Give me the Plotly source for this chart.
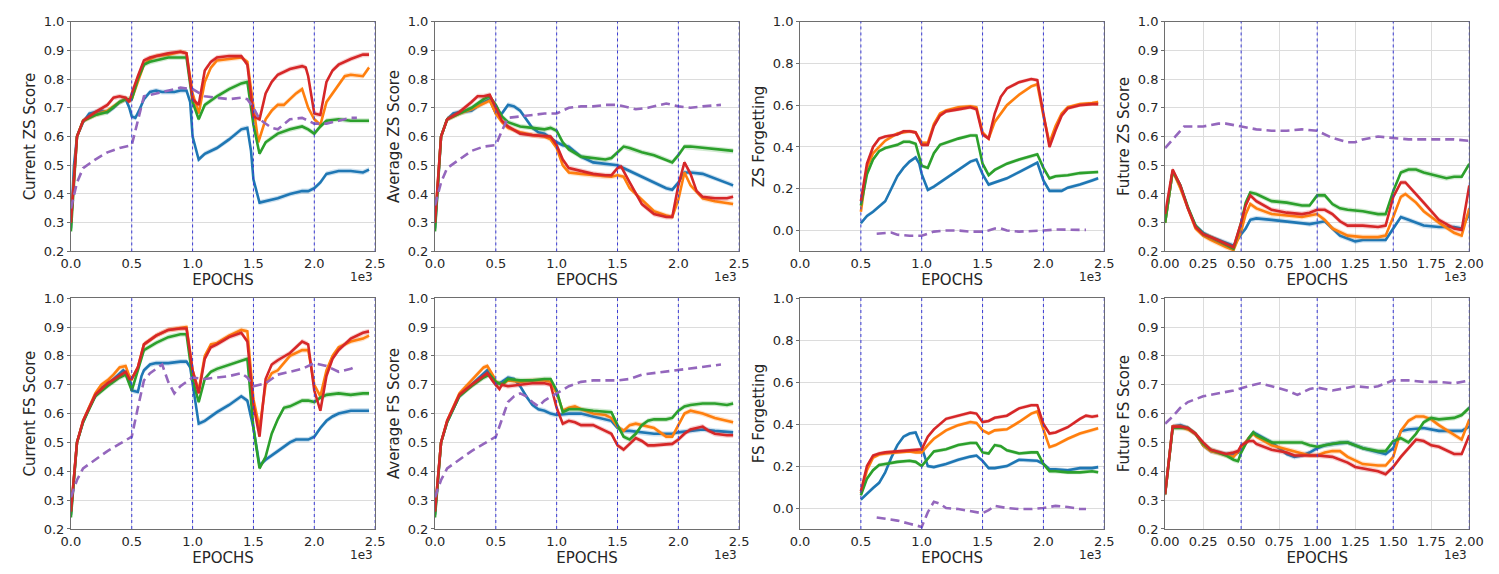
import plotly.graph_objects as go

# ---------------- data (epochs, scores) ----------------
# Panel 1: Current ZS Score
czs_blue_x = [0,25,50,100,150,200,250,300,350,400,450,480,500,530,560,600,650,700,750,800,850,900,950,980,1000,1050,1100,1200,1300,1400,1450,1480,1500,1550,1600,1700,1800,1900,1950,2000,2050,2100,2150,2200,2300,2400,2450]
czs_blue_y = [0.28,0.50,0.60,0.65,0.68,0.685,0.69,0.685,0.70,0.72,0.73,0.70,0.67,0.665,0.69,0.73,0.755,0.76,0.755,0.755,0.755,0.76,0.76,0.72,0.60,0.52,0.54,0.56,0.59,0.625,0.63,0.55,0.45,0.37,0.375,0.385,0.40,0.41,0.41,0.42,0.44,0.47,0.475,0.48,0.48,0.475,0.485]
czs_orange_x = [0,50,100,200,300,400,450,500,550,600,650,700,800,900,950,1000,1050,1100,1150,1200,1300,1400,1450,1500,1540,1600,1650,1700,1750,1800,1850,1900,1950,2000,2050,2100,2150,2200,2250,2300,2400,2450]
czs_orange_y = [0.30,0.60,0.655,0.675,0.69,0.72,0.73,0.73,0.79,0.85,0.87,0.88,0.885,0.895,0.89,0.75,0.68,0.79,0.84,0.865,0.87,0.875,0.86,0.70,0.58,0.66,0.69,0.71,0.71,0.73,0.75,0.765,0.70,0.66,0.64,0.72,0.75,0.78,0.81,0.815,0.81,0.84]
czs_green_x = [0,50,100,200,300,400,450,500,550,600,650,700,800,900,950,1000,1050,1100,1200,1300,1400,1450,1500,1550,1600,1700,1800,1900,1950,2000,2050,2100,2200,2300,2400,2450]
czs_green_y = [0.27,0.60,0.655,0.675,0.685,0.72,0.73,0.73,0.80,0.85,0.86,0.865,0.875,0.875,0.875,0.72,0.66,0.71,0.74,0.765,0.785,0.79,0.64,0.54,0.58,0.61,0.625,0.635,0.625,0.61,0.635,0.655,0.66,0.655,0.655,0.655]
czs_red_x = [0,50,100,200,300,350,400,450,480,500,550,600,650,700,800,900,950,1000,1050,1100,1150,1200,1300,1400,1450,1500,1550,1600,1650,1700,1800,1900,1930,1950,2000,2050,2100,2150,2200,2300,2400,2450]
czs_red_y = [0.30,0.60,0.655,0.685,0.71,0.735,0.74,0.735,0.72,0.75,0.81,0.865,0.875,0.88,0.89,0.895,0.89,0.73,0.71,0.83,0.86,0.875,0.88,0.88,0.85,0.67,0.66,0.75,0.79,0.815,0.835,0.845,0.84,0.81,0.68,0.675,0.79,0.83,0.85,0.87,0.885,0.885]
czs_purple_x = [0,50,100,200,300,400,500,550,600,700,800,900,1000,1100,1200,1300,1400,1450,1500,1550,1650,1700,1800,1900,2000,2100,2200,2300,2350]
czs_purple_y = [0.35,0.44,0.49,0.52,0.545,0.56,0.57,0.65,0.74,0.75,0.76,0.77,0.765,0.74,0.735,0.73,0.735,0.73,0.70,0.66,0.63,0.625,0.66,0.665,0.645,0.645,0.655,0.665,0.665]

# Panel 2: Average ZS Score
azs_blue_x = [0,50,100,150,200,300,400,450,500,550,600,650,700,800,850,900,1000,1050,1100,1200,1300,1400,1500,1600,1700,1800,1900,1950,2000,2050,2100,2200,2300,2400,2450]
azs_blue_y = [0.28,0.60,0.66,0.68,0.685,0.69,0.72,0.73,0.68,0.68,0.71,0.705,0.69,0.63,0.615,0.61,0.58,0.57,0.565,0.53,0.51,0.505,0.50,0.48,0.46,0.44,0.42,0.415,0.44,0.475,0.475,0.47,0.455,0.44,0.43]
azs_orange_x = [0,50,100,200,300,400,450,500,550,600,700,800,900,950,1000,1050,1100,1200,1300,1400,1450,1500,1550,1600,1700,1800,1900,1950,2000,2050,2100,2200,2300,2400,2450]
azs_orange_y = [0.30,0.60,0.66,0.68,0.695,0.715,0.725,0.68,0.65,0.63,0.615,0.605,0.60,0.59,0.56,0.50,0.475,0.47,0.465,0.46,0.46,0.465,0.46,0.42,0.38,0.34,0.325,0.32,0.38,0.475,0.43,0.385,0.375,0.37,0.365]
azs_green_x = [0,50,100,200,300,400,450,500,550,600,700,800,900,950,1000,1050,1100,1200,1300,1400,1450,1500,1550,1600,1700,1800,1900,1950,2000,2050,2100,2200,2300,2400,2450]
azs_green_y = [0.27,0.60,0.66,0.68,0.70,0.73,0.74,0.71,0.67,0.65,0.635,0.63,0.625,0.63,0.62,0.58,0.555,0.53,0.525,0.52,0.525,0.545,0.565,0.56,0.545,0.535,0.52,0.51,0.535,0.565,0.565,0.56,0.555,0.55,0.55]
azs_red_x = [0,50,100,200,300,350,400,450,500,550,600,700,800,900,950,1000,1050,1100,1200,1300,1400,1450,1500,1530,1600,1700,1800,1900,1950,2000,2050,2100,2150,2200,2300,2400,2450]
azs_red_y = [0.30,0.60,0.66,0.685,0.72,0.74,0.74,0.745,0.70,0.655,0.635,0.61,0.605,0.60,0.60,0.57,0.52,0.49,0.48,0.47,0.465,0.465,0.49,0.495,0.44,0.365,0.33,0.32,0.32,0.43,0.51,0.47,0.41,0.39,0.385,0.385,0.39]
azs_purple_x = [0,50,100,200,300,400,500,550,600,700,800,900,1000,1100,1200,1300,1400,1500,1550,1650,1750,1850,1900,2000,2100,2200,2300,2350]
azs_purple_y = [0.36,0.44,0.49,0.52,0.55,0.565,0.57,0.62,0.665,0.67,0.675,0.68,0.68,0.70,0.705,0.705,0.71,0.71,0.705,0.695,0.70,0.71,0.715,0.705,0.70,0.705,0.71,0.71]

# Panel 3: ZS Forgetting
zsf_blue_x = [500,550,600,700,750,800,850,900,950,980,1000,1050,1100,1200,1300,1400,1450,1500,1550,1600,1700,1800,1900,1950,2000,2050,2100,2150,2200,2300,2400,2450]
zsf_blue_y = [0.035,0.07,0.09,0.14,0.20,0.26,0.30,0.33,0.35,0.32,0.27,0.195,0.21,0.25,0.29,0.33,0.34,0.27,0.22,0.23,0.25,0.28,0.31,0.325,0.24,0.19,0.19,0.19,0.205,0.22,0.24,0.25]
zsf_orange_x = [500,550,600,650,700,800,900,950,1000,1050,1100,1150,1200,1300,1400,1450,1500,1550,1600,1700,1800,1900,1950,2000,2050,2100,2150,2200,2300,2400,2450]
zsf_orange_y = [0.09,0.30,0.37,0.40,0.43,0.465,0.475,0.47,0.42,0.42,0.51,0.56,0.575,0.59,0.595,0.59,0.47,0.44,0.52,0.60,0.65,0.69,0.70,0.55,0.42,0.50,0.56,0.59,0.605,0.61,0.615]
zsf_green_x = [500,550,600,650,700,800,850,900,950,1000,1050,1100,1150,1200,1300,1400,1450,1500,1550,1600,1700,1800,1900,1950,2000,2050,2100,2200,2300,2400,2450]
zsf_green_y = [0.12,0.27,0.34,0.38,0.395,0.41,0.425,0.425,0.415,0.31,0.30,0.37,0.41,0.42,0.44,0.455,0.455,0.32,0.265,0.29,0.32,0.34,0.355,0.365,0.30,0.25,0.26,0.265,0.275,0.28,0.28]
zsf_red_x = [500,550,600,650,700,800,850,900,950,1000,1050,1100,1150,1200,1300,1400,1450,1500,1550,1600,1650,1700,1800,1900,1950,2000,2050,2100,2150,2200,2300,2400,2450]
zsf_red_y = [0.14,0.32,0.40,0.44,0.45,0.46,0.475,0.475,0.47,0.41,0.41,0.50,0.55,0.57,0.58,0.59,0.58,0.46,0.44,0.56,0.64,0.68,0.71,0.725,0.72,0.55,0.40,0.48,0.55,0.585,0.60,0.605,0.605]
zsf_purple_x = [630,700,750,800,900,1000,1100,1200,1300,1400,1500,1550,1600,1650,1700,1800,1900,2000,2100,2200,2300,2350]
zsf_purple_y = [-0.015,-0.012,-0.01,-0.02,-0.025,-0.025,-0.005,0.0,0.0,-0.005,-0.005,0.0,0.01,0.01,0.0,-0.005,-0.003,0.0,0.005,0.005,0.003,0.003]

# Panel 4: Future ZS Score
fzs_blue_x = [0,50,100,150,200,250,300,350,400,450,500,530,560,600,700,800,900,950,1000,1050,1100,1150,1200,1250,1300,1400,1450,1500,1550,1600,1700,1800,1900,1950,2000]
fzs_blue_y = [0.30,0.48,0.43,0.35,0.29,0.265,0.25,0.24,0.23,0.22,0.26,0.28,0.31,0.315,0.31,0.305,0.30,0.295,0.30,0.305,0.28,0.255,0.245,0.235,0.24,0.24,0.24,0.28,0.32,0.31,0.29,0.285,0.285,0.28,0.33]
fzs_orange_x = [0,50,100,150,200,250,300,400,450,500,530,560,600,700,800,900,950,1000,1050,1100,1200,1300,1400,1450,1500,1550,1580,1650,1700,1800,1900,1950,2000]
fzs_orange_y = [0.30,0.48,0.42,0.35,0.28,0.255,0.24,0.215,0.205,0.27,0.33,0.365,0.35,0.33,0.325,0.32,0.325,0.33,0.31,0.28,0.255,0.25,0.25,0.255,0.32,0.39,0.40,0.37,0.34,0.30,0.265,0.255,0.35]
fzs_green_x = [0,50,100,150,200,250,300,400,450,500,530,560,600,700,800,900,950,1000,1050,1100,1150,1200,1300,1400,1450,1500,1550,1600,1650,1700,1800,1850,1900,1950,2000]
fzs_green_y = [0.30,0.48,0.43,0.355,0.29,0.26,0.25,0.225,0.21,0.30,0.37,0.405,0.40,0.375,0.37,0.36,0.36,0.395,0.395,0.365,0.35,0.345,0.34,0.33,0.33,0.41,0.475,0.485,0.485,0.475,0.46,0.455,0.46,0.46,0.505]
fzs_red_x = [0,50,100,150,200,250,300,400,450,500,530,560,600,700,800,900,950,1000,1050,1100,1150,1200,1300,1400,1450,1500,1550,1580,1650,1700,1800,1900,1950,2000]
fzs_red_y = [0.33,0.485,0.43,0.35,0.285,0.26,0.25,0.225,0.215,0.30,0.36,0.395,0.375,0.345,0.335,0.33,0.335,0.345,0.345,0.33,0.305,0.29,0.29,0.285,0.29,0.39,0.44,0.44,0.40,0.37,0.31,0.28,0.275,0.43]
fzs_purple_x = [0,50,100,125,250,350,400,500,600,700,800,900,1000,1100,1200,1250,1300,1400,1500,1600,1700,1800,1900,2000]
fzs_purple_y = [0.56,0.59,0.62,0.635,0.635,0.645,0.645,0.635,0.625,0.62,0.62,0.625,0.62,0.595,0.58,0.58,0.59,0.60,0.595,0.59,0.59,0.59,0.59,0.585]

# Panel 5: Current FS Score
cfs_blue_x = [0,50,100,150,200,250,300,350,400,430,480,500,550,580,600,650,700,800,900,950,980,1000,1050,1100,1200,1300,1400,1450,1500,1550,1600,1700,1800,1850,1900,1950,2000,2050,2100,2150,2200,2300,2400,2450]
cfs_blue_y = [0.25,0.50,0.57,0.62,0.66,0.69,0.70,0.72,0.74,0.75,0.73,0.68,0.675,0.73,0.75,0.77,0.775,0.775,0.78,0.78,0.76,0.70,0.565,0.575,0.605,0.63,0.66,0.645,0.55,0.42,0.44,0.47,0.50,0.51,0.51,0.51,0.52,0.55,0.575,0.59,0.60,0.61,0.61,0.61]
cfs_orange_x = [0,50,100,150,200,250,300,350,400,450,480,500,550,600,700,800,900,950,1000,1050,1100,1150,1200,1300,1400,1450,1500,1550,1600,1650,1700,1800,1900,1950,2000,2050,2100,2150,2200,2300,2400,2450]
cfs_orange_y = [0.26,0.50,0.575,0.62,0.67,0.70,0.715,0.735,0.76,0.765,0.73,0.72,0.76,0.84,0.87,0.89,0.895,0.90,0.75,0.68,0.80,0.84,0.845,0.87,0.89,0.885,0.65,0.55,0.70,0.74,0.75,0.80,0.82,0.82,0.70,0.66,0.75,0.80,0.83,0.85,0.86,0.87]
cfs_green_x = [0,50,100,200,300,400,450,500,550,600,700,800,900,950,1000,1050,1100,1150,1200,1300,1400,1450,1500,1550,1600,1650,1700,1750,1800,1900,1950,2000,2050,2100,2200,2300,2400,2450]
cfs_green_y = [0.24,0.50,0.57,0.66,0.695,0.725,0.735,0.68,0.75,0.82,0.845,0.865,0.875,0.875,0.72,0.64,0.72,0.745,0.755,0.77,0.785,0.79,0.55,0.41,0.45,0.53,0.58,0.62,0.625,0.645,0.645,0.64,0.655,0.665,0.67,0.665,0.67,0.67]
cfs_red_x = [0,50,100,200,300,400,450,480,500,550,600,700,800,900,950,1000,1050,1100,1150,1200,1300,1400,1450,1500,1550,1600,1650,1700,1800,1900,1950,2000,2050,2100,2150,2200,2300,2400,2450]
cfs_red_y = [0.26,0.50,0.575,0.665,0.705,0.73,0.745,0.72,0.72,0.76,0.84,0.87,0.89,0.895,0.895,0.75,0.67,0.79,0.83,0.84,0.865,0.88,0.85,0.63,0.52,0.72,0.77,0.785,0.81,0.85,0.84,0.68,0.61,0.73,0.79,0.82,0.86,0.88,0.885]
cfs_purple_x = [0,50,100,200,300,400,500,550,600,650,700,750,800,850,900,1000,1100,1200,1300,1400,1450,1500,1600,1700,1800,1900,2000,2100,2200,2300,2350]
cfs_purple_y = [0.31,0.37,0.41,0.44,0.47,0.495,0.52,0.62,0.715,0.74,0.755,0.77,0.71,0.67,0.695,0.725,0.72,0.725,0.73,0.74,0.725,0.695,0.705,0.735,0.745,0.755,0.775,0.765,0.745,0.755,0.765]

# Panel 6: Average FS Score
afs_blue_x = [0,50,100,200,300,400,430,480,500,550,600,650,700,750,800,850,900,950,1000,1100,1200,1300,1400,1450,1500,1550,1600,1700,1800,1900,1950,2000,2100,2200,2300,2400,2450]
afs_blue_y = [0.25,0.50,0.57,0.66,0.70,0.74,0.75,0.72,0.70,0.71,0.725,0.72,0.695,0.66,0.63,0.615,0.61,0.60,0.595,0.60,0.60,0.59,0.58,0.575,0.55,0.54,0.54,0.535,0.53,0.53,0.53,0.535,0.54,0.545,0.54,0.535,0.535]
afs_orange_x = [0,50,100,200,300,400,430,480,500,550,600,700,800,900,950,1000,1050,1100,1150,1200,1300,1400,1450,1500,1550,1600,1650,1700,1800,1850,1900,1950,2000,2050,2100,2200,2300,2400,2450]
afs_orange_y = [0.26,0.50,0.575,0.67,0.715,0.76,0.765,0.73,0.71,0.70,0.715,0.71,0.715,0.715,0.71,0.67,0.61,0.62,0.625,0.615,0.60,0.595,0.585,0.555,0.54,0.56,0.565,0.56,0.55,0.535,0.52,0.52,0.56,0.60,0.61,0.60,0.585,0.575,0.57]
afs_green_x = [0,50,100,200,300,400,450,500,550,600,700,800,900,950,1000,1050,1100,1200,1300,1400,1450,1500,1550,1600,1650,1700,1750,1800,1900,1950,2000,2050,2100,2200,2300,2400,2450]
afs_green_y = [0.24,0.50,0.57,0.66,0.695,0.725,0.735,0.71,0.70,0.72,0.715,0.715,0.72,0.72,0.68,0.605,0.615,0.615,0.61,0.605,0.605,0.56,0.52,0.51,0.53,0.56,0.575,0.58,0.58,0.585,0.61,0.625,0.63,0.635,0.635,0.63,0.635]
afs_red_x = [0,50,100,200,300,400,430,480,500,530,550,600,700,800,900,950,1000,1050,1100,1150,1200,1300,1400,1450,1500,1550,1600,1650,1700,1750,1800,1900,1950,2000,2050,2100,2200,2250,2300,2400,2450]
afs_red_y = [0.26,0.50,0.575,0.665,0.70,0.73,0.74,0.71,0.70,0.685,0.70,0.695,0.70,0.705,0.705,0.70,0.62,0.565,0.575,0.57,0.56,0.56,0.54,0.53,0.49,0.475,0.495,0.515,0.505,0.49,0.49,0.495,0.495,0.51,0.53,0.545,0.555,0.54,0.53,0.525,0.525]
afs_purple_x = [0,50,100,200,300,400,500,550,600,650,700,750,800,850,900,1000,1100,1200,1300,1500,1600,1700,1800,1900,2000,2100,2200,2300,2350]
afs_purple_y = [0.31,0.37,0.41,0.44,0.47,0.495,0.52,0.58,0.64,0.66,0.67,0.66,0.64,0.625,0.645,0.67,0.695,0.71,0.715,0.715,0.72,0.735,0.74,0.745,0.75,0.755,0.76,0.765,0.77]

# Panel 7: FS Forgetting
fsf_blue_x = [500,550,600,650,700,750,800,850,900,950,1000,1050,1100,1200,1300,1400,1450,1500,1550,1600,1700,1800,1900,1950,2000,2050,2100,2200,2300,2400,2450]
fsf_blue_y = [0.04,0.07,0.095,0.12,0.17,0.24,0.30,0.34,0.355,0.36,0.29,0.20,0.195,0.21,0.23,0.245,0.25,0.225,0.19,0.19,0.20,0.23,0.225,0.225,0.21,0.185,0.185,0.18,0.19,0.19,0.195]
fsf_orange_x = [500,550,600,650,700,800,900,950,1000,1050,1100,1200,1300,1400,1450,1500,1550,1600,1700,1800,1900,1950,2000,2050,2100,2200,2300,2400,2450]
fsf_orange_y = [0.07,0.18,0.24,0.255,0.26,0.265,0.27,0.265,0.265,0.30,0.33,0.37,0.395,0.41,0.405,0.37,0.355,0.37,0.375,0.41,0.45,0.46,0.38,0.29,0.30,0.33,0.355,0.37,0.38]
fsf_green_x = [500,550,600,650,700,800,900,950,1000,1050,1100,1200,1300,1400,1450,1500,1550,1600,1650,1700,1800,1900,1950,2000,2050,2100,2200,2300,2400,2450]
fsf_green_y = [0.06,0.14,0.18,0.205,0.21,0.22,0.225,0.22,0.20,0.235,0.27,0.28,0.30,0.31,0.31,0.265,0.26,0.30,0.295,0.275,0.26,0.265,0.265,0.21,0.175,0.175,0.17,0.17,0.175,0.17]
fsf_red_x = [500,550,600,650,700,800,900,950,1000,1050,1100,1200,1300,1400,1450,1500,1550,1600,1700,1800,1900,1950,2000,2050,2100,2200,2300,2350,2400,2450]
fsf_red_y = [0.08,0.20,0.25,0.26,0.265,0.27,0.275,0.275,0.28,0.34,0.375,0.425,0.44,0.455,0.45,0.41,0.415,0.43,0.44,0.475,0.49,0.49,0.40,0.355,0.36,0.385,0.425,0.44,0.435,0.44]
fsf_purple_x = [630,700,800,900,1000,1050,1100,1150,1200,1300,1400,1500,1550,1600,1700,1800,1900,2000,2100,2200,2300,2350]
fsf_purple_y = [-0.045,-0.05,-0.06,-0.075,-0.09,-0.02,0.03,0.02,0.0,-0.005,-0.015,-0.025,-0.01,0.01,0.0,-0.005,-0.005,0.0,0.01,0.005,-0.005,-0.005]

# Panel 8: Future FS Score
ffs_blue_x = [0,50,100,150,200,250,300,400,450,480,500,550,580,600,700,800,850,900,950,1000,1050,1100,1200,1300,1400,1450,1500,1550,1600,1700,1800,1900,1950,2000]
ffs_blue_y = [0.32,0.555,0.56,0.55,0.53,0.49,0.47,0.46,0.46,0.465,0.48,0.515,0.535,0.53,0.50,0.46,0.45,0.455,0.465,0.48,0.49,0.495,0.50,0.48,0.465,0.46,0.48,0.54,0.545,0.55,0.54,0.54,0.54,0.555]
ffs_orange_x = [0,50,100,150,200,250,300,400,450,500,550,580,600,700,800,900,950,1000,1050,1100,1150,1200,1300,1400,1450,1500,1550,1600,1650,1700,1750,1800,1900,1950,2000]
ffs_orange_y = [0.32,0.555,0.555,0.545,0.53,0.49,0.47,0.455,0.45,0.48,0.515,0.53,0.52,0.49,0.475,0.46,0.455,0.455,0.465,0.47,0.47,0.45,0.425,0.42,0.42,0.45,0.54,0.575,0.59,0.59,0.58,0.56,0.525,0.51,0.58]
ffs_green_x = [0,50,100,150,200,250,300,400,450,480,500,550,580,600,700,800,900,950,1000,1050,1100,1150,1200,1300,1400,1450,1500,1550,1600,1650,1700,1750,1800,1900,1950,2000]
ffs_green_y = [0.32,0.55,0.55,0.55,0.53,0.495,0.475,0.455,0.44,0.435,0.465,0.515,0.535,0.525,0.50,0.50,0.50,0.49,0.485,0.49,0.495,0.50,0.50,0.48,0.47,0.47,0.505,0.515,0.50,0.53,0.57,0.585,0.58,0.585,0.595,0.62]
ffs_red_x = [0,50,100,150,200,250,300,400,450,480,500,550,580,600,700,800,850,900,1000,1100,1200,1250,1300,1400,1450,1500,1550,1600,1650,1700,1750,1800,1900,1950,2000]
ffs_red_y = [0.32,0.555,0.555,0.55,0.53,0.50,0.475,0.46,0.465,0.47,0.49,0.505,0.505,0.495,0.475,0.465,0.455,0.455,0.455,0.45,0.43,0.415,0.41,0.40,0.39,0.415,0.45,0.48,0.51,0.505,0.49,0.485,0.46,0.46,0.525]
ffs_purple_x = [0,50,100,150,250,350,450,550,625,700,800,870,950,1000,1100,1250,1350,1400,1500,1600,1700,1800,1900,2000]
ffs_purple_y = [0.565,0.59,0.62,0.64,0.66,0.67,0.68,0.695,0.705,0.695,0.68,0.665,0.685,0.69,0.68,0.695,0.69,0.695,0.715,0.715,0.71,0.71,0.705,0.715]

panel_titles = ["Current ZS Score", "Average ZS Score", "ZS Forgetting", "Future ZS Score",
                "Current FS Score", "Average FS Score", "FS Forgetting", "Future FS Score"]
x_title = "EPOCHS"
task_boundaries = [500, 1000, 1500, 2000, 2500]

# ---------------- styling ----------------
COLORS = {"blue": "#1f77b4", "orange": "#ff7f0e", "green": "#2ca02c", "red": "#d62728", "purple": "#9467bd"}
FILLS = {"blue": "rgba(31,119,180,0.22)", "orange": "rgba(255,127,14,0.22)",
         "green": "rgba(44,160,44,0.22)", "red": "rgba(214,39,40,0.22)"}
BAND = 0.009

names = ["czs", "azs", "zsf", "fzs", "cfs", "afs", "fsf", "ffs"]
g = globals()

W, H = 1499, 574
col_px = [(58, 368), (429, 739), (801, 1111), (1173, 1483)]
row_px = [(15, 251), (299, 536)]

fig = go.Figure()
FONT = "DejaVu Sans, Arial, sans-serif"
FRAME = "#6e6e6e"
GRID = "#dcdcdc"
TXT = "#262626"

for i, nm in enumerate(names):
    r, c = divmod(i, 4)
    ax = "" if i == 0 else str(i + 1)
    xa, ya = "x" + ax, "y" + ax
    is_forget = nm in ("zsf", "fsf")
    is_future = nm in ("fzs", "ffs")
    xmax = 2000 if is_future else 2500
    for s in ["blue", "orange", "green", "red"]:
        xs, ys = g[f"{nm}_{s}_x"], g[f"{nm}_{s}_y"]
        up = [v + BAND for v in ys]
        lo = [v - BAND for v in ys]
        fig.add_trace(go.Scatter(x=xs + xs[::-1], y=up + lo[::-1], fill="toself",
                                 fillcolor=FILLS[s], line=dict(width=0), mode="lines",
                                 hoverinfo="skip", showlegend=False, xaxis=xa, yaxis=ya))
        fig.add_trace(go.Scatter(x=xs, y=ys, mode="lines", line=dict(color=COLORS[s], width=2.6),
                                 showlegend=False, xaxis=xa, yaxis=ya))
    fig.add_trace(go.Scatter(x=g[f"{nm}_purple_x"], y=g[f"{nm}_purple_y"], mode="lines",
                             line=dict(color=COLORS["purple"], width=2.6, dash="9px,5px"),
                             showlegend=False, xaxis=xa, yaxis=ya))

    x0p, x1p = col_px[c]
    y0p, y1p = row_px[r]
    if is_future:
        tv = [0, 250, 500, 750, 1000, 1250, 1500, 1750, 2000]
        tt = ["0.00", "0.25", "0.50", "0.75", "1.00", "1.25", "1.50", "1.75", "2.00"]
    else:
        tv = [0, 500, 1000, 1500, 2000, 2500]
        tt = ["0.0", "0.5", "1.0", "1.5", "2.0", "2.5"]
    if is_forget:
        yr = [-0.1, 1.0]
        ytv = [0.0, 0.2, 0.4, 0.6, 0.8, 1.0]
        ytt = ["0.0", "0.2", "0.4", "0.6", "0.8", "1.0"]
    else:
        yr = [0.2, 1.0]
        ytv = [0.2, 0.3, 0.4, 0.5, 0.6, 0.7, 0.8, 0.9, 1.0]
        ytt = ["0.2", "0.3", "0.4", "0.5", "0.6", "0.7", "0.8", "0.9", "1.0"]
    fig.update_layout(**{
        ("xaxis" + ax): dict(domain=[x0p / W, x1p / W], range=[0, xmax], anchor=ya,
                             tickvals=tv, ticktext=tt, showgrid=True, gridcolor=GRID, gridwidth=1,
                             showline=True, linecolor=FRAME, linewidth=1, mirror=True,
                             ticks="", zeroline=False,
                             tickfont=dict(size=13, color=TXT, family=FONT),
                             title=dict(text=x_title, font=dict(size=15, color=TXT, family=FONT), standoff=0)),
        ("yaxis" + ax): dict(domain=[1 - y1p / H, 1 - y0p / H], range=yr, anchor=xa,
                             tickvals=ytv, ticktext=ytt, showgrid=True, gridcolor=GRID, gridwidth=1,
                             showline=True, linecolor=FRAME, linewidth=1, mirror=True,
                             ticks="outside", ticklen=3, tickcolor=FRAME, zeroline=False,
                             tickfont=dict(size=13, color=TXT, family=FONT),
                             title=dict(text=panel_titles[i], font=dict(size=15, color=TXT, family=FONT), standoff=4)),
    })
    for b in task_boundaries:
        if b <= xmax:
            fig.add_shape(type="line", xref=xa, yref=ya + " domain", x0=b, x1=b, y0=0, y1=1,
                          line=dict(color="#3a3ad6", width=1, dash="dot"), layer="above")
    fig.add_annotation(text="1e3", xref="paper", yref="paper", x=x1p / W, y=1 - (y1p + 17) / H,
                       xanchor="right", yanchor="top", showarrow=False,
                       font=dict(size=12, color=TXT, family=FONT))

fig.update_layout(width=W, height=H, margin=dict(l=0, r=0, t=0, b=0),
                  plot_bgcolor="white", paper_bgcolor="white", showlegend=False)
fig.write_html("out.html")
